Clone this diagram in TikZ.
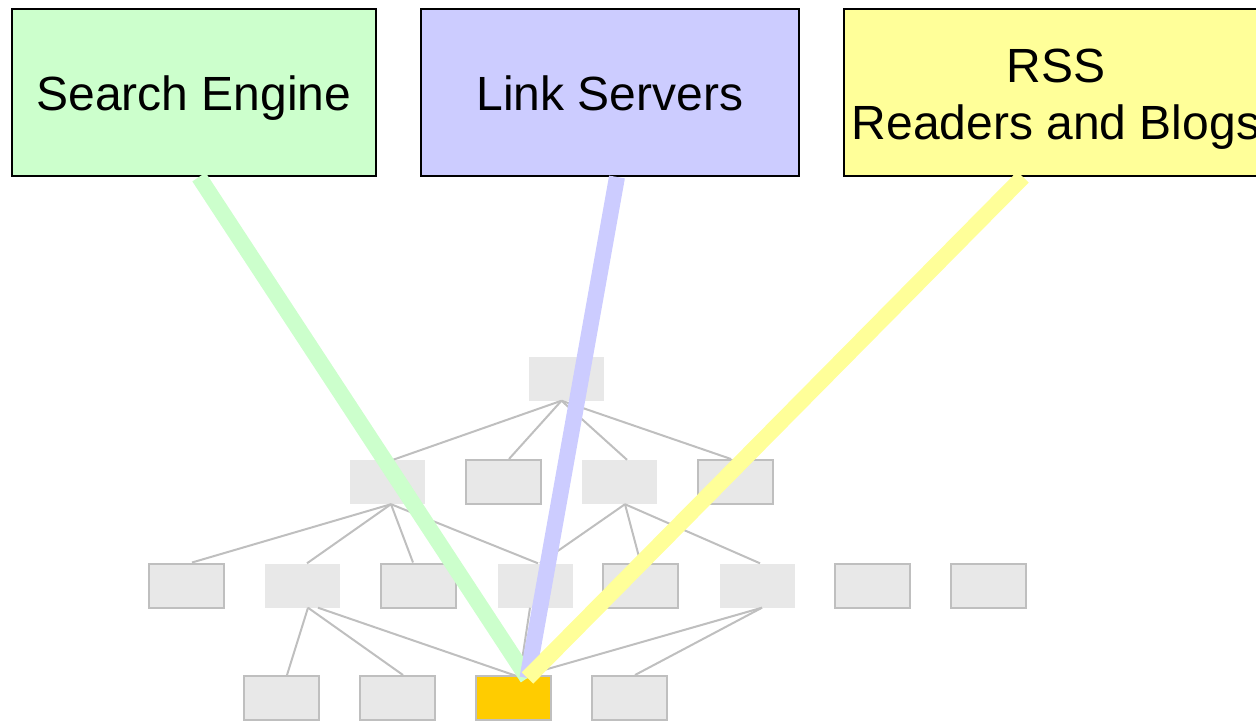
\documentclass[tikz,border=0pt]{standalone}
\usepackage{fontspec}
\setmainfont{Liberation Sans}
\definecolor{sgreen}{HTML}{CCFFCC}
\definecolor{sblue}{HTML}{CCCCFF}
\definecolor{syellow}{HTML}{FFFF99}
\definecolor{sorange}{HTML}{FFCC00}
\definecolor{tgray}{HTML}{E8E8E8}
\definecolor{tline}{HTML}{BFBFBF}
\begin{document}
\begin{tikzpicture}[x=1pt,y=-1pt,
  topbox/.style={draw=black, line width=2pt, rectangle, inner sep=0pt, align=center,
    minimum height=167pt, text height=35pt, text depth=0pt, font=\fontsize{48}{57}\selectfont},
  tnode/.style={rectangle, fill=tgray, minimum width=75pt, minimum height=44pt, inner sep=0pt},
  tbord/.style={tnode, draw=tline, line width=2pt},
  tedge/.style={draw=tline, line width=2pt},
  feed/.style={line width=16pt, line cap=butt}]
\useasboundingbox (0,0) rectangle (1256,721);
\clip (0,0) rectangle (1256,721);
% top boxes
\node[topbox, fill=sgreen, minimum width=364pt] (se) at (194,92.5) {Search Engine};
\node[topbox, fill=sblue, minimum width=378pt] (ls) at (610,92.5) {Link Servers};
\node[topbox, fill=syellow, minimum width=424pt, text height=93pt] (rss) at (1056,92.5) {RSS\\Readers and Blogs};
% tree nodes
\node[tnode] (root) at (566.5,378.5) {};
\node[tnode] (a) at (387,482) {};
\node[tbord] (b) at (503.5,482) {};
\node[tnode] (c) at (619.5,482) {};
\node[tbord] (d) at (735.5,482) {};
\node[tbord] (e1) at (186.5,585.5) {};
\node[tnode] (e2) at (302.5,585.5) {};
\node[tbord] (e3) at (418.5,585.5) {};
\node[tnode] (e4) at (535,585.5) {};
\node[tbord] (e5) at (640.5,585.5) {};
\node[tnode] (e6) at (757,585.5) {};
\node[tbord] (e7) at (872.5,585.5) {};
\node[tbord] (e8) at (988.5,585.5) {};
\node[tbord] (f1) at (281.5,698) {};
\node[tbord] (f2) at (397.5,698) {};
\node[tbord, fill=sorange] (or) at (513.5,698) {};
\node[tbord] (f4) at (629.5,698) {};
\coordinate (conv) at ([xshift=6pt,yshift=-2pt]or.north);
\coordinate (hub) at ([xshift=14pt,yshift=-3pt]or.north);
% tree edges
\draw[tedge] ([xshift=-5pt]root.south) -- ([xshift=6pt]a.north);
\draw[tedge] ([xshift=-5pt]root.south) -- ([xshift=5.5pt]b.north);
\draw[tedge] ([xshift=-5pt]root.south) -- ([xshift=7.5pt]c.north);
\draw[tedge] ([xshift=-5pt]root.south) -- ([xshift=-4.5pt]d.north);
\draw[tedge] ([xshift=4pt]a.south) -- ([xshift=5.5pt]e1.north);
\draw[tedge] ([xshift=4pt]a.south) -- ([xshift=4.5pt]e2.north);
\draw[tedge] ([xshift=4pt]a.south) -- ([xshift=-5.5pt]e3.north);
\draw[tedge] ([xshift=4pt]a.south) -- ([xshift=3pt]e4.north);
\draw[tedge] ([xshift=5.5pt]c.south) -- ([xshift=5pt]e4.north);
\draw[tedge] ([xshift=5.5pt]c.south) -- (e5.north);
\draw[tedge] ([xshift=5.5pt]c.south) -- ([xshift=3pt]e6.north);
\draw[tedge] ([xshift=5.5pt]e2.south) -- ([xshift=5.5pt]f1.north);
\draw[tedge] ([xshift=5.5pt]e2.south) -- ([xshift=5.5pt]f2.north);
\draw[tedge] ([xshift=15.5pt]e2.south) -- (conv);
\draw[tedge] ([xshift=-5pt]e4.south) -- (conv);
\draw[tedge] ([xshift=5pt]e6.south) -- (conv);
\draw[tedge] ([xshift=5pt]e6.south) -- ([xshift=5.5pt]f4.north);
% feeds
\draw[feed, draw=sgreen] ([xshift=5pt]se.south) -- (hub);
\draw[feed, draw=sblue] ([xshift=7pt]ls.south) -- (hub);
\draw[feed, draw=syellow] ([xshift=-33pt]rss.south) -- (hub);
\end{tikzpicture}
\end{document}
